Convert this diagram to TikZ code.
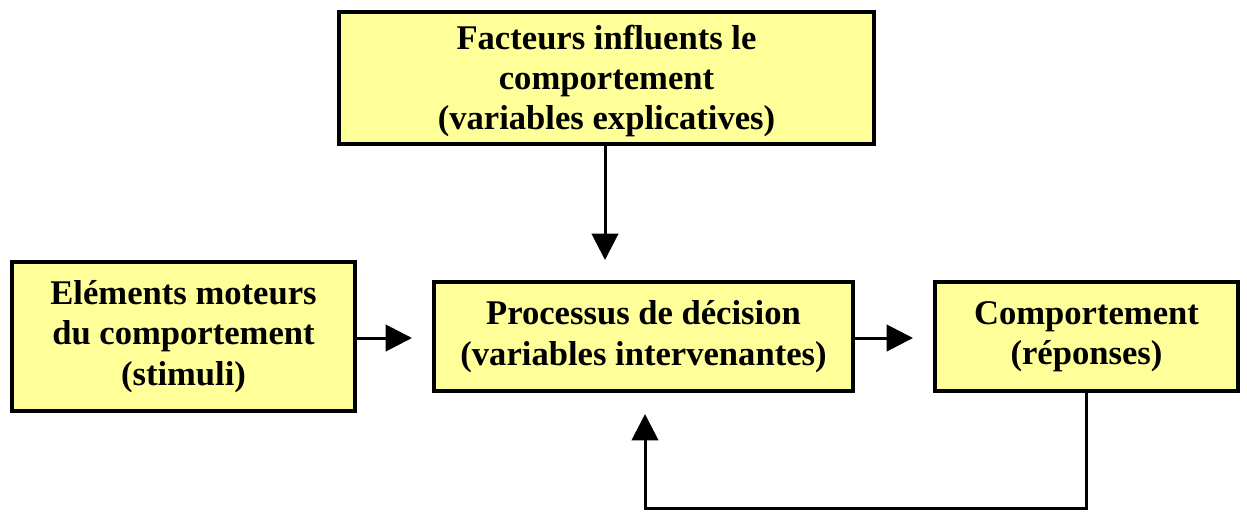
\documentclass[tikz,border=0pt]{standalone}
\usepackage{fontspec}
\setmainfont{Liberation Serif}
\usetikzlibrary{arrows.meta}
\definecolor{boxfill}{RGB}{255,255,153}
\begin{document}
\begin{tikzpicture}[x=0.02cm,y=-0.02cm,
  block/.style={draw=black, line width=2.2pt, fill=boxfill, rectangle,
    inner sep=0pt, align=center, font=\fontsize{19.7}{23}\selectfont\bfseries},
  link/.style={line width=1.7pt, -{Triangle[length=15pt,width=15pt]}}]
  \useasboundingbox (0,0) rectangle (1247,511);
  % blocks
  \node[block, minimum width=10.7cm, minimum height=2.64cm] (facteurs) at (606.5,78) {};
  \node[font=\fontsize{19.7}{23}\selectfont\bfseries, align=center, inner sep=0pt]
    (facteurstxt) at (606.5,81)
    {Facteurs influents le\\comportement\\(variables explicatives)};
  \node[block, minimum width=6.86cm, minimum height=2.98cm] (stimuli) at (183.5,336.5)
    {Eléments moteurs\\du comportement\\(stimuli)};
  \node[block, minimum width=8.38cm, minimum height=2.18cm] (processus) at (643.5,336.5)
    {Processus de décision\\(variables intervenantes)};
  \node[block, minimum width=6.06cm, minimum height=2.18cm] (reponses) at (1086.5,336.5)
    {Comportement\\(réponses)};
  % arrow ends
  \coordinate (tipA) at (605,260);
  \coordinate (tipB) at (412,338);
  \coordinate (tipC) at (913,338);
  \coordinate (tipD) at (645,414);
  \coordinate (loop) at (645,508);
  % connectors
  \draw[link] (facteurs.south -| tipA) -- (tipA);
  \draw[link] (stimuli.east |- tipB) -- (tipB);
  \draw[link] (processus.east |- tipC) -- (tipC);
  \draw[link] (reponses.south) |- (loop) -- (tipD);
\end{tikzpicture}
\end{document}
